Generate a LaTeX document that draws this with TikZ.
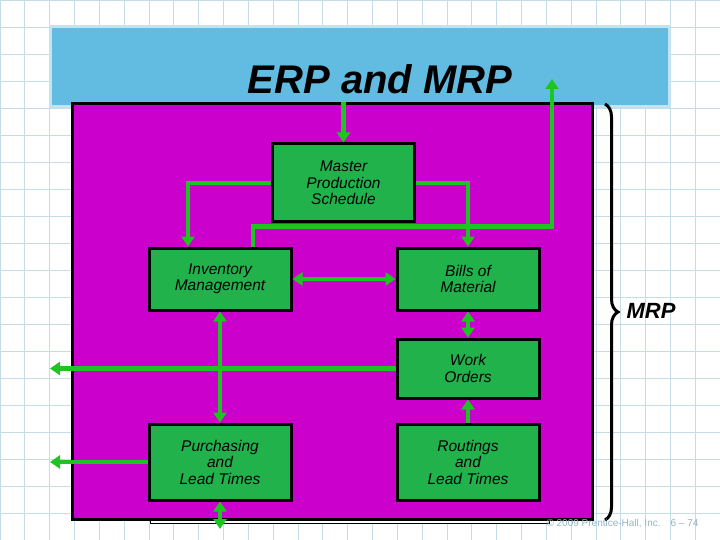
\documentclass[tikz,border=0pt]{standalone}
\usepackage{fontspec}
\setmainfont{Liberation Sans}
\usepackage{tikz}
\usetikzlibrary{arrows.meta, decorations.pathreplacing}

\definecolor{gridblue}{HTML}{C5DDE7}
\definecolor{bannerblue}{HTML}{62BCE1}
\definecolor{bannerrim}{HTML}{C2E3F1}
\definecolor{mrpmagenta}{HTML}{CC00CC}
\definecolor{boxgreen}{HTML}{22B24C}
\definecolor{linkgreen}{HTML}{1EC522}
\definecolor{footgray}{HTML}{93B4C4}

\begin{document}
\begin{tikzpicture}[x=1pt, y=-1pt,
        stage/.style = {draw=black, line width=3pt, fill=boxgreen, inner sep=0pt,
                        minimum width=142pt, align=center,
                        font=\fontsize{15.5}{16.5}\selectfont\itshape},
        link/.style = {draw=linkgreen, line width=4.5pt,
                       >={Triangle[length=10pt,width=13pt]}},
        gridline/.style = {draw=gridblue, line width=0.8pt}]
                \useasboundingbox (0,0) rectangle (720,540);
                % paper grid
                \foreach \i in {0,...,29} \draw[gridline] (\i*24.83,0) -- (\i*24.83,540);
                \foreach \j in {0,...,20} \draw[gridline] (0,\j*27) -- (720,\j*27);

                % title banner and MRP area
                \draw[fill=bannerblue, draw=bannerrim, line width=3pt] (50.5,26.5) rectangle (669.5,106.5);
                \node[font=\fontsize{40}{44}\selectfont\bfseries\itshape] (title) at (380,79) {ERP and MRP};
                \draw[fill=white, draw=black, line width=0.8pt] (150,518) rectangle (549,523.5);
                \node[draw=black, line width=3pt, fill=mrpmagenta, inner sep=0pt,
                      minimum width=520pt, minimum height=415pt] (mrp) at (332,311.5) {};

                \node[stage, minimum height=78pt] at (343.5,183) (MPS) {Master\\Production\\Schedule};
                \node[stage, minimum height=62pt] at (220,279) (IM) {Inventory\\Management};
                \node[stage, minimum height=62pt] at (468,279) (BOM) {Bills of\\Material};
                \node[stage, minimum height=59pt] at (468,368.5) (WO) {Work\\Orders};
                \node[stage, minimum height=76pt] at (220,462) (PLT) {Purchasing\\and\\Lead Times};
                \node[stage, minimum height=76pt] at (468,462) (RLT) {Routings\\and\\Lead Times};

                \coordinate (erpout) at (552,79);
                \coordinate (leftout) at (50,0);
                \coordinate (downout) at (0,529);

                \draw [link, ->] (MPS.north |- mrp.north) -- (MPS.north);
                \draw [link, ->] (MPS.west) -| ([xshift=-32pt]IM.north);
                \draw [link, ->] (MPS.east) -| (BOM.north);
                \draw [link, ->] ([xshift=33pt]IM.north) -- ++(0,-20) -| (erpout);
                \draw [link, <->] (IM.east) -- (BOM.west);
                \draw [link, <->] (BOM.south) -- (WO.north);
                \draw [link, <->] (IM.south) -- (PLT.north);
                \draw [link, ->] (WO.west) -- (WO.west -| leftout);
                \draw [link, ->] (RLT.north) -- (WO.south);
                \draw [link, ->] (PLT.west) -- (PLT.west -| leftout);
                \draw [link, <->] (PLT.south) -- (PLT.south |- downout);

                % brace for the MRP part
                \draw [decorate, decoration={brace, amplitude=13pt}, line width=3pt]
                        (605,104) -- (605,520);
                \node[font=\fontsize{22}{24}\selectfont\bfseries\itshape, anchor=west] (mrplabel) at (623,311) {MRP};
                \node[font=\fontsize{10}{12}\selectfont, text=footgray, anchor=west] (footer) at (543,524)
                        {\textcopyright{} 2009 Prentice-Hall, Inc.\quad 6 -- 74};
                \end{tikzpicture}
\end{document}
